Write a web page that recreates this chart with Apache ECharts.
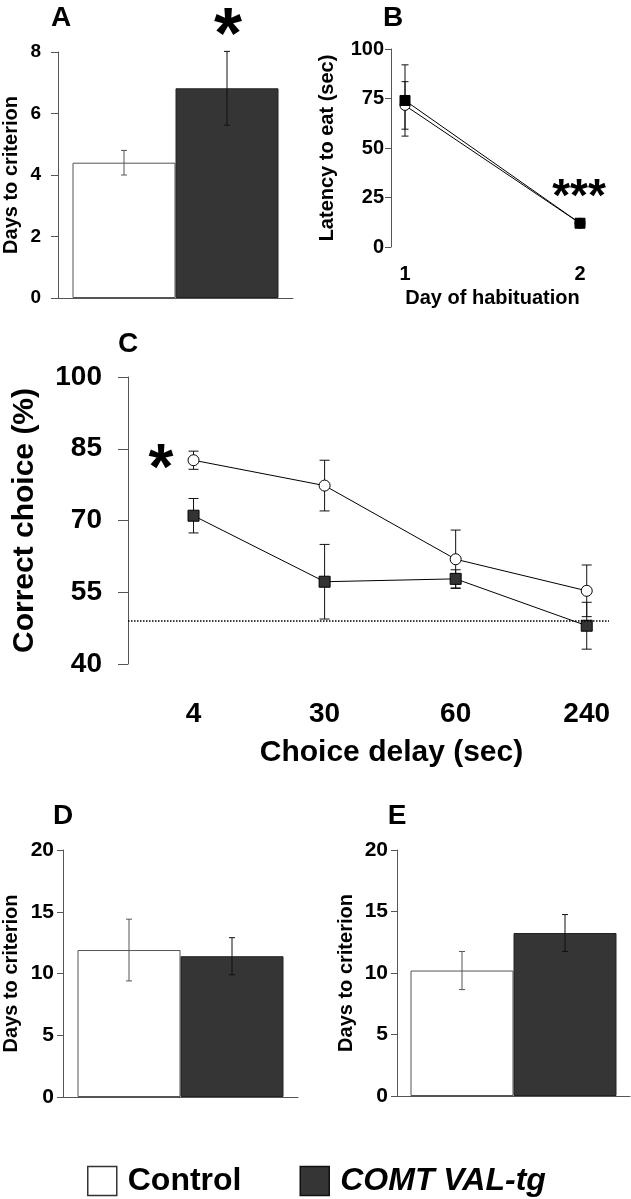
<!DOCTYPE html>
<html><head><meta charset="utf-8">
<script src="https://cdn.jsdelivr.net/npm/echarts@6/dist/echarts.min.js"></script>
<style>html,body{margin:0;padding:0;background:#fff}#c{width:631px;height:1199px}</style>
</head><body><div id="c"></div>
<script>
// ---------- data ----------
const groups = ['Control', 'COMT VAL-tg'];
// Panel A: days to criterion
const aMeans = [4.4, 6.82];
const aErrs = [0.4, 1.2];
// Panel B: latency to eat (sec) by day of habituation
const bDays = [1, 2];
const bControl = [71.5, 12];
const bControlErr = [12, 1.5];
const bVal = [74, 12];
const bValErr = [18, 1.5];
// Panel C: correct choice (%) by choice delay
const cDelays = ['4', '30', '60', '240'];
const cControl = [82.6, 77.3, 61.9, 55.3];
const cControlErr = [1.9, 5.3, 6.1, 5.4];
const cVal = [71.0, 57.2, 57.8, 48.0];
const cValErr = [3.6, 7.8, 1.9, 4.9];
const cChance = 49;
// Panel D / E: days to criterion
const dMeans = [11.9, 11.4];
const dErrs = [2.5, 1.5];
const eMeans = [10.2, 13.25];
const eErrs = [1.55, 1.5];

// ---------- styles ----------
const FF = "'Liberation Sans', Arial, sans-serif";
const AX = '#555';
const DARK = '#353535';
const BARW = 103;

const chart = echarts.init(document.getElementById('c'), null, {renderer: 'canvas'});

function yAx(grid, min, max, interval, name, o) {
  return {
    type: 'value', gridIndex: grid, min, max, interval,
    splitLine: {show: false},
    axisLine: {show: true, onZero: false, lineStyle: {color: AX, width: 1}},
    axisTick: {show: true, length: o.tick, lineStyle: {color: AX, width: 1}},
    axisLabel: {fontSize: o.lf, fontWeight: 'bold', color: '#000', fontFamily: FF, margin: o.lm},
    name, nameLocation: 'middle', nameGap: o.ng,
    nameTextStyle: {fontSize: o.nf, fontWeight: 'bold', color: '#000', fontFamily: FF}
  };
}
function catX(grid) {
  return {
    type: 'category', gridIndex: grid, data: ['x'],
    axisLine: {show: true, onZero: false, lineStyle: {color: AX, width: 1}},
    axisTick: {show: false}, axisLabel: {show: false}
  };
}
function errRender(offset, cap, color) {
  return function (params, api) {
    const x = api.value(0), v = api.value(1), e = api.value(2);
    const hi = api.coord([x, v + e]);
    const lo = api.coord([x, v - e]);
    const px = hi[0] + offset;
    const st = {stroke: color, lineWidth: 1};
    return {type: 'group', children: [
      {type: 'line', shape: {x1: px, y1: hi[1], x2: px, y2: lo[1]}, style: st},
      {type: 'line', shape: {x1: px - cap, y1: hi[1], x2: px + cap, y2: hi[1]}, style: st},
      {type: 'line', shape: {x1: px - cap, y1: lo[1], x2: px + cap, y2: lo[1]}, style: st}
    ]};
  };
}
function barPanel(grid, means, errs) {
  return [
    {type: 'bar', name: groups[0], xAxisIndex: grid, yAxisIndex: grid, data: [means[0]],
     barWidth: BARW, barGap: '0%', itemStyle: {color: '#fff', borderColor: AX, borderWidth: 1}},
    {type: 'bar', name: groups[1], xAxisIndex: grid, yAxisIndex: grid, data: [means[1]],
     barWidth: BARW, barGap: '0%', itemStyle: {color: DARK, borderColor: '#222', borderWidth: 1}},
    {type: 'custom', xAxisIndex: grid, yAxisIndex: grid, z: 5,
     renderItem: errRender(-BARW / 2, 3, AX), data: [[0, means[0], errs[0]]]},
    {type: 'custom', xAxisIndex: grid, yAxisIndex: grid, z: 5,
     renderItem: errRender(BARW / 2, 3, '#111'), data: [[0, means[1], errs[1]]]}
  ];
}
function lineSeries(grid, xs, ys, errs, name, isCircle, size, fill, cap) {
  return [
    {type: 'custom', xAxisIndex: grid, yAxisIndex: grid, z: 1,
     renderItem: errRender(0, cap, '#111'), data: xs.map((x, i) => [x, ys[i], errs[i]])},
    {type: 'line', name, xAxisIndex: grid, yAxisIndex: grid, z: isCircle ? 3 : 4,
     data: xs.map((x, i) => [x, ys[i]]),
     symbol: isCircle ? 'circle' : 'rect', symbolSize: size,
     itemStyle: {color: fill, borderColor: '#000', borderWidth: 1},
     lineStyle: {color: '#000', width: 1}}
  ];
}

const cIdx = cDelays.map((d, i) => i);

const option = {
  animation: false,
  backgroundColor: '#fff',
  textStyle: {fontFamily: FF},
  grid: [
    {left: 58, top: 52, width: 235, height: 246},
    {left: 391, top: 49, width: 203, height: 198},
    {left: 128, top: 377, width: 481, height: 287},
    {left: 62, top: 850, width: 236, height: 247},
    {left: 397, top: 850, width: 233, height: 246}
  ],
  xAxis: [
    catX(0),
    {type: 'value', gridIndex: 1, min: 0.92, max: 2.08,
     splitLine: {show: false}, axisLine: {show: false}, axisTick: {show: false},
     axisLabel: {customValues: bDays, fontSize: 20, fontWeight: 'bold', color: '#000', fontFamily: FF, margin: 17},
     name: 'Day of habituation', nameLocation: 'middle', nameGap: 41,
     nameTextStyle: {fontSize: 20, fontWeight: 'bold', color: '#000', fontFamily: FF}},
    {type: 'value', gridIndex: 2, min: -0.5, max: 3.17,
     splitLine: {show: false}, axisLine: {show: false}, axisTick: {show: false},
     axisLabel: {customValues: cIdx, formatter: v => cDelays[Math.round(v)],
       fontSize: 28, fontWeight: 'bold', color: '#000', fontFamily: FF, margin: 36},
     name: 'Choice delay (sec)', nameLocation: 'middle', nameGap: 74,
     nameTextStyle: {fontSize: 30, fontWeight: 'bold', color: '#000', fontFamily: FF, padding: [0, 0, 0, 46]}},
    catX(3),
    catX(4)
  ],
  yAxis: [
    yAx(0, 0, 8, 2, 'Days to criterion', {tick: 7, lf: 19, lm: 17, ng: 37, nf: 20}),
    yAx(1, 0, 100, 25, 'Latency to eat (sec)', {tick: 6, lf: 20, lm: 7, ng: 54, nf: 20}),
    yAx(2, 40, 100, 15, 'Correct choice (%)', {tick: 10, lf: 28, lm: 26, ng: 88, nf: 30}),
    yAx(3, 0, 20, 5, 'Days to criterion', {tick: 6, lf: 21, lm: 9, ng: 42, nf: 20}),
    yAx(4, 0, 20, 5, 'Days to criterion', {tick: 6, lf: 21, lm: 9, ng: 41, nf: 20})
  ],
  legend: {
    left: 87, top: 1165, padding: 0, itemWidth: 29, itemHeight: 29, itemGap: 58, icon: 'rect',
    selectedMode: false,
    textStyle: {fontSize: 32, fontWeight: 'bold', color: '#000', fontFamily: FF, padding: [0, 0, 0, 6]},
    data: [
      {name: groups[0], itemStyle: {color: '#fff', borderColor: '#333', borderWidth: 1.5}},
      {name: groups[1], itemStyle: {color: DARK, borderColor: '#111', borderWidth: 1.5},
       textStyle: {fontStyle: 'italic'}}
    ]
  },
  series: [
    ...barPanel(0, aMeans, aErrs),
    ...barPanel(3, dMeans, dErrs),
    ...barPanel(4, eMeans, eErrs),
    ...lineSeries(1, bDays, bControl, bControlErr, groups[0], true, 10, '#fff', 3.5),
    ...lineSeries(1, bDays, bVal, bValErr, groups[1], false, 10, '#000', 3.5),
    ...lineSeries(2, cIdx, cControl, cControlErr, groups[0], true, 11, '#fff', 5),
    ...lineSeries(2, cIdx, cVal, cValErr, groups[1], false, 11, '#333', 5),
    {type: 'line', xAxisIndex: 2, yAxisIndex: 2, data: [], z: 0,
     markLine: {silent: true, symbol: ['none', 'none'], label: {show: false},
       lineStyle: {type: [1.5, 1.5], color: '#000', width: 1.5},
       data: [{yAxis: cChance}]}}
  ],
  graphic: [
    {type: 'text', style: {x: 61, y: 18, text: 'A', font: 'bold 28px ' + FF, textAlign: 'center', textVerticalAlign: 'middle', fill: '#000'}},
    {type: 'text', style: {x: 393, y: 18, text: 'B', font: 'bold 28px ' + FF, textAlign: 'center', textVerticalAlign: 'middle', fill: '#000'}},
    {type: 'text', style: {x: 128, y: 344, text: 'C', font: 'bold 28px ' + FF, textAlign: 'center', textVerticalAlign: 'middle', fill: '#000'}},
    {type: 'text', style: {x: 63, y: 816, text: 'D', font: 'bold 28px ' + FF, textAlign: 'center', textVerticalAlign: 'middle', fill: '#000'}},
    {type: 'text', style: {x: 397, y: 816, text: 'E', font: 'bold 28px ' + FF, textAlign: 'center', textVerticalAlign: 'middle', fill: '#000'}},
    {type: 'text', style: {x: 228, y: 38, text: '*', font: 'bold 72px ' + FF, textAlign: 'center', textVerticalAlign: 'middle', fill: '#000'}},
    {type: 'text', style: {x: 161, y: 471, text: '*', font: 'bold 64px ' + FF, textAlign: 'center', textVerticalAlign: 'middle', fill: '#000'}},
    {type: 'text', style: {x: 579, y: 198, text: '***', font: 'bold 46px ' + FF, textAlign: 'center', textVerticalAlign: 'middle', fill: '#000'}}
  ]
};
chart.setOption(option);
</script>
</body></html>
